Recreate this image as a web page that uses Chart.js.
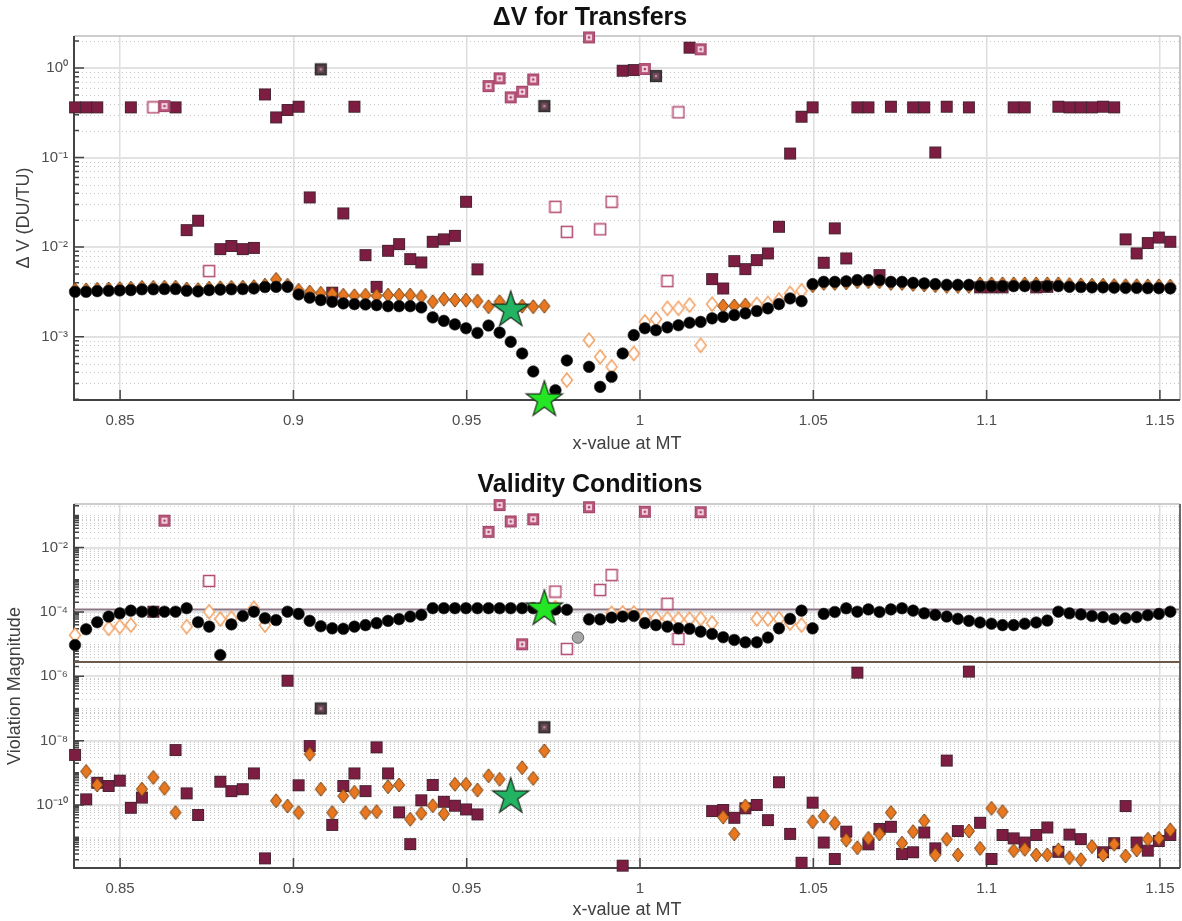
<!DOCTYPE html>
<html>
<head>
<meta charset="utf-8">
<script src="https://cdn.jsdelivr.net/npm/chart.js@4.4.1/dist/chart.umd.min.js"></script>
<style>
  html, body { margin: 0; padding: 0; background: #fff; }
  #wrap { position: relative; width: 1182px; height: 921px; }
  canvas { position: absolute; left: 0; }
</style>
</head>
<body>
<div id="wrap">
  <canvas id="topChart" width="1182" height="455" style="top:0"></canvas>
  <canvas id="botChart" width="1182" height="466" style="top:455px"></canvas>
</div>
<script>
// x positions of the sampled transfers (x-value at MT)
const X = [0.8370,0.8402,0.8434,0.8467,0.8499,0.8531,0.8563,0.8596,0.8628,0.8660,
  0.8692,0.8725,0.8757,0.8789,0.8821,0.8854,0.8886,0.8918,0.8950,0.8983,
  0.9015,0.9047,0.9079,0.9112,0.9144,0.9176,0.9208,0.9240,0.9273,0.9305,
  0.9337,0.9369,0.9402,0.9434,0.9466,0.9498,0.9531,0.9563,0.9595,0.9627,
  0.9660,0.9692,0.9724,0.9756,0.9789,0.9821,0.9853,0.9885,0.9918,0.9950,
  0.9982,1.0014,1.0046,1.0079,1.0111,1.0143,1.0175,1.0208,1.0240,1.0272,
  1.0304,1.0337,1.0369,1.0401,1.0433,1.0466,1.0498,1.0530,1.0562,1.0595,
  1.0627,1.0659,1.0691,1.0724,1.0756,1.0788,1.0820,1.0852,1.0885,1.0917,
  1.0949,1.0981,1.1014,1.1046,1.1078,1.1110,1.1143,1.1175,1.1207,1.1239,
  1.1272,1.1304,1.1336,1.1368,1.1401,1.1433,1.1465,1.1497,1.1530];

const X_MIN = 0.8367, X_MAX = 1.1558;
const X_TICKS = [0.85, 0.9, 0.95, 1, 1.05, 1.1, 1.15];
const X_TICK_LABELS = ['0.85', '0.9', '0.95', '1', '1.05', '1.1', '1.15'];

// ---- top panel: delta-V ----
const TOP_Y_MIN = 1.96e-4, TOP_Y_MAX = 2.28;
const TOP_Y_TICKS = [1e-3, 1e-2, 1e-1, 1];

const TOP_CIRCLE = [3.17e-3,3.17e-3,3.22e-3,3.25e-3,3.28e-3,3.31e-3,3.38e-3,3.38e-3,3.40e-3,3.40e-3,
  3.25e-3,3.20e-3,3.31e-3,3.35e-3,3.38e-3,3.40e-3,3.45e-3,3.58e-3,3.60e-3,3.60e-3,
  2.96e-3,2.72e-3,2.56e-3,2.45e-3,2.35e-3,2.31e-3,2.29e-3,2.25e-3,2.19e-3,2.19e-3,
  2.19e-3,2.12e-3,1.64e-3,1.50e-3,1.37e-3,1.24e-3,1.10e-3,1.33e-3,1.11e-3,8.75e-4,
  6.49e-4,4.08e-4,2.06e-4,2.52e-4,5.42e-4,null,4.60e-4,2.75e-4,3.56e-4,6.49e-4,
  1.04e-3,1.24e-3,1.18e-3,1.27e-3,1.34e-3,1.43e-3,1.46e-3,1.60e-3,1.66e-3,1.74e-3,
  1.82e-3,1.93e-3,2.07e-3,2.31e-3,2.67e-3,2.49e-3,3.86e-3,4.09e-3,4.09e-3,4.15e-3,
  4.28e-3,4.28e-3,4.28e-3,4.09e-3,4.09e-3,3.99e-3,3.93e-3,3.86e-3,3.79e-3,3.79e-3,
  3.79e-3,3.67e-3,3.67e-3,3.67e-3,3.67e-3,3.67e-3,3.67e-3,3.67e-3,3.67e-3,3.60e-3,
  3.58e-3,3.55e-3,3.55e-3,3.52e-3,3.50e-3,3.50e-3,3.48e-3,3.48e-3,3.46e-3];

const TOP_ORANGE = [3.33e-3,3.33e-3,3.38e-3,3.41e-3,3.44e-3,3.48e-3,3.55e-3,3.55e-3,3.57e-3,3.57e-3,
  3.41e-3,3.36e-3,3.48e-3,3.52e-3,3.55e-3,3.57e-3,3.62e-3,3.76e-3,4.36e-3,3.75e-3,
  3.3e-3,3.15e-3,3.05e-3,3.0e-3,2.9e-3,2.86e-3,2.9e-3,2.86e-3,2.91e-3,2.91e-3,
  2.91e-3,2.8e-3,2.45e-3,2.62e-3,2.56e-3,2.56e-3,2.49e-3,2.16e-3,2.45e-3,2.3e-3,
  2.19e-3,2.16e-3,2.19e-3,null,null,null,null,null,null,null,
  null,null,null,null,null,null,null,null,2.2e-3,2.2e-3,
  2.25e-3,null,null,null,null,null,3.71e-3,3.93e-3,3.93e-3,3.98e-3,
  4.11e-3,4.11e-3,4.11e-3,3.93e-3,3.93e-3,3.83e-3,3.77e-3,3.71e-3,3.64e-3,3.64e-3,
  3.64e-3,3.89e-3,3.89e-3,3.89e-3,3.89e-3,3.89e-3,3.89e-3,3.89e-3,3.89e-3,3.82e-3,
  3.79e-3,3.76e-3,3.76e-3,3.73e-3,3.71e-3,3.71e-3,3.69e-3,3.69e-3,3.67e-3];

const TOP_OR_OPEN_IDX = [44,46,47,48,50,51,52,53,54,55,56,57,61,62,63,64,65];
const TOP_OR_OPEN_VAL = [3.27e-4,9.14e-4,5.95e-4,4.60e-4,6.49e-4,1.46e-3,1.57e-3,2.07e-3,2.07e-3,2.25e-3,8.0e-4,2.31e-3,2.3e-3,2.35e-3,2.56e-3,3.04e-3,3.25e-3];

const TOP_SQ_IDX = [0,1,2,5,9,10,11,13,14,15,16,17,18,19,20,21,23,24,25,26,27,28,29,30,31,32,33,34,35,36,
  49,50,55,57,58,59,60,61,62,63,64,65,66,67,68,69,70,71,72,73,75,76,77,78,
  80,81,82,83,84,85,86,87,88,89,90,91,92,93,94,95,96,97,98];
const TOP_SQ_VAL = [0.364,0.364,0.364,0.364,0.364,0.0155,0.0197,0.0095,0.0103,0.0095,0.0098,0.508,0.281,0.34,
  0.37,0.0359,0.0031,0.0238,0.37,0.00814,0.0036,0.0091,0.0108,0.00735,0.00674,0.01146,0.0122,0.01337,0.0321,0.00564,
  0.933,0.95,1.69,0.00439,0.00345,0.00698,0.00568,0.00716,0.0085,0.01686,0.111,0.286,0.364,0.00668,0.0162,0.00748,
  0.364,0.364,0.00487,0.37,0.364,0.364,0.114,0.37,
  0.364,0.00355,0.00355,0.00355,0.364,0.364,0.00355,0.0036,0.37,0.364,0.364,0.364,0.37,0.364,0.0122,0.0085,0.0111,0.0128,0.01146];

const TOP_SQ_OPEN_IDX = [7,12,43,44,47,48,53,54];
const TOP_SQ_OPEN_VAL = [0.364,0.0054,0.0282,0.0148,0.0158,0.0321,0.00417,0.32];
const TOP_SQ_HATCH_IDX = [8,37,38,39,40,41,46,51,56];
const TOP_SQ_HATCH_VAL = [0.376,0.629,0.767,0.471,0.544,0.746,2.2,0.975,1.62];
const TOP_SQ_DARK_IDX = [22,42,52];
const TOP_SQ_DARK_VAL = [0.967,0.376,0.814];
const TOP_STAR_IDX = [39,42];
const TOP_STAR_VAL = [1.98e-3,1.97e-4];

// ---- bottom panel: validity conditions ----
const BOT_Y_MIN = 1.1e-12, BOT_Y_MAX = 0.227;
const BOT_Y_TICKS = [1e-10, 1e-8, 1e-6, 1e-4, 1e-2];

const BOT_CIRCLE = [9.4e-6,2.9e-5,4.8e-5,7.2e-5,9.1e-5,1.1e-4,1.02e-4,1.02e-4,1.02e-4,1.02e-4,
  1.31e-4,4.8e-5,3.5e-5,4.6e-6,4.1e-5,7.5e-5,1.02e-4,6.4e-5,5.6e-5,1.02e-4,
  8.7e-5,5.3e-5,3.6e-5,3.1e-5,3.0e-5,3.5e-5,3.9e-5,4.5e-5,5.3e-5,6.0e-5,
  7.2e-5,8.1e-5,1.31e-4,1.31e-4,1.31e-4,1.31e-4,1.31e-4,1.31e-4,1.31e-4,1.31e-4,
  1.31e-4,1.31e-4,1.25e-4,1.2e-4,1.17e-4,null,5.9e-5,5.9e-5,6.7e-5,7.2e-5,
  7.5e-5,4.5e-5,3.9e-5,3.5e-5,3.1e-5,3.0e-5,2.44e-5,2.07e-5,1.64e-5,1.35e-5,
  1.14e-5,1.14e-5,1.6e-5,3.1e-5,6.1e-5,1.1e-4,3.1e-5,8.7e-5,1.0e-4,1.3e-4,
  1.02e-4,1.2e-4,1.0e-4,1.2e-4,1.3e-4,1.1e-4,9.1e-5,8.1e-5,7.2e-5,6.1e-5,
  5.3e-5,4.7e-5,4.3e-5,3.9e-5,3.9e-5,4.3e-5,4.7e-5,5.4e-5,1.02e-4,9.1e-5,
  8.4e-5,7.5e-5,6.9e-5,6.1e-5,6.4e-5,6.9e-5,7.9e-5,8.7e-5,1.02e-4];

const BOT_ORANGE = [null,1.1e-9,4.2e-10,null,null,null,3.1e-10,7.2e-10,3.3e-10,5.8e-11,
  null,null,null,null,null,null,null,null,1.36e-10,9.3e-11,
  5.8e-11,3.8e-9,3.1e-10,5.8e-11,1.9e-10,2.5e-10,5.8e-11,6.2e-11,3.7e-10,4.2e-10,
  3.6e-11,5.5e-11,9.5e-11,5.3e-11,4.4e-10,4.4e-10,2.9e-10,8.1e-10,6.3e-10,null,
  1.44e-9,6.7e-10,4.8e-9,null,null,null,null,null,null,null,
  null,null,null,null,null,null,null,null,4.2e-11,1.26e-11,
  9.3e-11,null,null,null,null,null,3e-11,4.5e-11,2.7e-11,8.1e-12,
  4.7e-12,9.2e-12,1.26e-11,5.8e-11,6.5e-12,1.48e-11,3.2e-11,2.8e-12,8.6e-12,2.8e-12,
  1.55e-11,4.5e-12,7.9e-11,6.2e-11,3.8e-12,4.2e-12,2.8e-12,2.8e-12,4e-12,2.3e-12,
  2e-12,5.1e-12,2.8e-12,6e-12,2.6e-12,4e-12,8.6e-12,9.2e-12,1.67e-11];

const BOT_OR_OPEN_IDX = [0,3,4,5,10,12,13,14,16,17,43,48,49,50,51,52,53,54,55,56,57,61,62,63,64,65];
const BOT_OR_OPEN_VAL = [1.9e-5,3.1e-5,3.5e-5,3.9e-5,3.5e-5,1.02e-4,6.0e-5,6.4e-5,1.3e-4,3.9e-5,1.35e-4,9.1e-5,9.3e-5,9.3e-5,7.2e-5,6.4e-5,6.2e-5,6.0e-5,6.0e-5,6.2e-5,4.5e-5,6.1e-5,6.1e-5,6.1e-5,4.5e-5,3.9e-5];

const BOT_SQ_IDX = [0,1,2,3,4,5,6,7,9,10,11,13,14,15,16,17,19,20,21,23,24,25,26,27,28,29,
  30,31,32,33,34,35,36,49,57,58,59,60,61,62,63,64,65,66,67,68,69,
  70,71,72,73,74,75,76,77,78,79,80,81,82,83,84,85,86,87,88,89,90,92,93,94,95,96,97,98];
const BOT_SQ_VAL = [3.6e-9,1.5e-10,4.9e-10,3.9e-10,5.7e-10,8.2e-11,1.7e-10,1.02e-4,5.1e-9,2.3e-10,4.9e-11,
  5.3e-10,2.7e-10,3.1e-10,9.6e-10,2.2e-12,7.3e-7,4.1e-10,6.8e-9,2.4e-11,3.9e-10,9.6e-10,2.7e-10,6.2e-9,9.6e-10,5.9e-11,
  6.1e-12,1.4e-10,4.2e-10,1.26e-10,9.5e-11,7.3e-11,5.1e-11,1.3e-12,6.5e-11,7e-11,4e-11,7.9e-11,1e-10,3.4e-11,5.1e-10,
  1.26e-11,1.6e-12,1.18e-10,6.8e-12,2.1e-12,1.48e-11,
  1.3e-6,6e-12,1.8e-11,2.1e-11,3e-12,3.4e-12,1.4e-11,4.5e-12,2.4e-9,1.55e-11,1.4e-6,2.8e-11,2.1e-12,1.17e-11,9.2e-12,
  6.8e-12,1.17e-11,2e-11,3.5e-12,1.2e-11,8.7e-12,3.4e-12,6.5e-12,9.3e-11,6.8e-12,3.8e-12,7.6e-12,1.17e-11];

const BOT_SQ_OPEN_IDX = [12,43,44,47,48,53,54];
const BOT_SQ_OPEN_VAL = [9.2e-4,4.3e-4,7.1e-6,4.8e-4,1.4e-3,1.8e-4,1.45e-5];
const BOT_SQ_HATCH_IDX = [8,37,38,39,40,41,46,51,56];
const BOT_SQ_HATCH_VAL = [0.069,0.031,0.21,0.065,9.9e-6,0.076,0.18,0.13,0.126];
const BOT_SQ_DARK_IDX = [22,42];
const BOT_SQ_DARK_VAL = [1.0e-7,2.6e-8];
const BOT_GRAY_IDX = [45];
const BOT_GRAY_VAL = [1.6e-5];
const BOT_STAR_IDX = [42,39];
const BOT_STAR_VAL = [1.25e-4,1.8e-10];
const BOT_REF_LINES = [1.19e-4, 2.8e-6];

// ---- helpers ----
Chart.defaults.font.family = "'Liberation Sans', Arial, sans-serif";

const full = arr => X.map((x, i) => ({x, y: arr[i]})).filter(p => p.y != null);
const pairs = (idx, val) => idx.map((i, k) => ({x: X[i], y: val[k]}));

const SUP = {'-': '\u207b', '0': '\u2070', '1': '\u00b9', '2': '\u00b2', '3': '\u00b3',
  '4': '\u2074', '5': '\u2075', '6': '\u2076', '7': '\u2077', '8': '\u2078', '9': '\u2079'};
const pow10Label = v => '10' + String(Math.round(Math.log10(v))).split('').map(c => SUP[c]).join('');

function makeMarker(w, h, draw) {
  const c = document.createElement('canvas');
  c.width = w; c.height = h;
  draw(c.getContext('2d'), w / 2, h / 2);
  return c;
}

const squareMark = (fill, stroke, lw, inner, dot) => makeMarker(14, 14, (g, cx, cy) => {
  g.fillStyle = fill;
  g.fillRect(cx - 5.5, cy - 5.5, 11, 11);
  g.strokeStyle = stroke; g.lineWidth = lw;
  g.strokeRect(cx - 5.5, cy - 5.5, 11, 11);
  if (inner) { g.fillStyle = inner; g.fillRect(cx - 3, cy - 3, 6, 6); }
  if (dot) { g.fillStyle = dot; g.beginPath(); g.arc(cx, cy, 1.3, 0, Math.PI * 2); g.fill(); }
});

const diamondMark = (fill, stroke, lw) => makeMarker(14, 18, (g, cx, cy) => {
  g.beginPath();
  g.moveTo(cx, cy - 7); g.lineTo(cx + 5.5, cy); g.lineTo(cx, cy + 7); g.lineTo(cx - 5.5, cy);
  g.closePath();
  g.fillStyle = fill; g.fill();
  g.strokeStyle = stroke; g.lineWidth = lw; g.stroke();
});

const starMark = fill => makeMarker(42, 42, (g, cx, cy) => {
  g.beginPath();
  for (let k = 0; k < 10; k++) {
    const r = k % 2 ? 7.3 : 19;
    const a = -Math.PI / 2 + k * Math.PI / 5;
    g.lineTo(cx + r * Math.cos(a), cy + r * Math.sin(a));
  }
  g.closePath();
  g.fillStyle = fill; g.fill();
  g.strokeStyle = '#1b2b1b'; g.lineWidth = 1.2; g.stroke();
});

const MK = {
  sq: squareMark('#7d1d42', '#4a2634', 1),
  sqOpen: squareMark('#ffffff', '#b24a72', 1.5),
  sqHatch: squareMark('#b9557a', '#a0486a', 1, '#f1d3de', '#a8406a'),
  sqDark: squareMark('#4d3a42', '#2e2e2e', 1.2, '#6d4d5a', '#c58aa3'),
  dia: diamondMark('#e8771f', '#6e4216', 1),
  diaOpen: diamondMark('#ffffff', '#f2a062', 1.5),
  starDark: starMark('#22b462'),
  starBright: starMark('#25e625')
};

const pointSet = (data, style, extra) => Object.assign({
  data, pointStyle: style, pointRadius: 6, showLine: false, clip: false
}, extra);

const circleSet = (data, fill) => pointSet(data, 'circle', {
  pointRadius: 5.8, backgroundColor: fill, borderColor: '#222', borderWidth: 0.6
});

// minor dotted grid, plot frame and inward ticks, MATLAB style
const axisDecor = {
  id: 'axisDecor',
  beforeDatasetsDraw(chart, args, opts) {
    const {ctx, chartArea: a} = chart;
    const xs = chart.scales.x, ys = chart.scales.y;
    const majors = ys.ticks.map(t => t.value);
    const minors = [];
    for (let e = Math.floor(Math.log10(ys.min)); e <= Math.ceil(Math.log10(ys.max)); e++) {
      for (const m of opts.mults) {
        const v = m * Math.pow(10, e);
        if (v > ys.min && v < ys.max && !majors.some(t => Math.abs(t - v) / v < 1e-6)) minors.push(v);
      }
    }
    ctx.save();
    ctx.strokeStyle = '#c8c8c8';
    ctx.lineWidth = 1;
    ctx.setLineDash([1, 3]);
    for (const v of minors) {
      const py = Math.round(ys.getPixelForValue(v)) + 0.5;
      ctx.beginPath(); ctx.moveTo(a.left, py); ctx.lineTo(a.right, py); ctx.stroke();
    }
    ctx.setLineDash([]);
    ctx.strokeStyle = '#bdbdbd';
    ctx.lineWidth = 1.5;
    ctx.beginPath();
    ctx.moveTo(a.left, a.top); ctx.lineTo(a.right, a.top);
    ctx.stroke();
    ctx.strokeStyle = opts.rightColor;
    ctx.lineWidth = 2;
    ctx.beginPath();
    ctx.moveTo(a.right, a.top); ctx.lineTo(a.right, a.bottom);
    ctx.stroke();
    ctx.strokeStyle = '#444';
    ctx.lineWidth = 2;
    ctx.beginPath();
    ctx.moveTo(a.left, a.top); ctx.lineTo(a.left, a.bottom); ctx.lineTo(a.right, a.bottom);
    ctx.stroke();
    ctx.lineWidth = 1.5;
    ctx.beginPath();
    for (const v of majors) { const py = ys.getPixelForValue(v); ctx.moveTo(a.left, py); ctx.lineTo(a.left + 10, py); }
    for (const v of minors) { const py = ys.getPixelForValue(v); ctx.moveTo(a.left, py); ctx.lineTo(a.left + 5, py); }
    for (const t of xs.ticks) { const px = xs.getPixelForValue(t.value); ctx.moveTo(px, a.bottom); ctx.lineTo(px, a.bottom - 10); }
    ctx.stroke();
    ctx.restore();
  }
};

function panelOptions(p) {
  return {
    responsive: false,
    animation: false,
    events: [],
    layout: {autoPadding: false, padding: {left: 0, right: 2, top: 0, bottom: 0}},
    plugins: {
      legend: {display: false},
      tooltip: {enabled: false},
      title: {
        display: true, text: p.title, color: '#111',
        font: {size: 25, weight: 'bold'}, padding: p.titlePad
      },
      axisDecor: {mults: p.mults, rightColor: p.rightColor}
    },
    scales: {
      x: {
        type: 'linear', min: X_MIN, max: X_MAX,
        afterBuildTicks: s => { s.ticks = X_TICKS.map(v => ({value: v})); },
        afterFit: s => { s.height = p.xHeight; s.paddingLeft = 0; s.paddingRight = 0; },
        ticks: {
          callback: (v, i) => X_TICK_LABELS[i], autoSkip: false, maxRotation: 0,
          color: '#4d4d4d', font: {size: 15}, padding: 12
        },
        grid: {color: '#dedede', lineWidth: 1.5, drawTicks: false},
        border: {display: false},
        title: {display: true, text: 'x-value at MT', color: '#404040', font: {size: 18}, padding: {top: 0, bottom: 0}}
      },
      y: {
        type: 'logarithmic', min: p.yMin, max: p.yMax,
        afterBuildTicks: s => { s.ticks = p.yTicks.map(v => ({value: v})); },
        afterFit: s => { s.width = 74; s.paddingTop = 0; s.paddingBottom = 0; },
        ticks: {callback: v => pow10Label(v), autoSkip: false, color: '#4d4d4d', font: {size: 15}, padding: 6},
        grid: {color: '#e2e2e2', lineWidth: 2, drawTicks: false},
        border: {display: false},
        title: {display: true, text: p.yTitle, color: '#404040', font: {size: 18}, padding: {top: p.yTitlePad, bottom: 0}}
      }
    }
  };
}

new Chart(document.getElementById('topChart'), {
  type: 'scatter',
  data: {
    datasets: [
      pointSet(pairs(TOP_STAR_IDX, TOP_STAR_VAL), [MK.starDark, MK.starBright], {pointRadius: 10}),
      circleSet(full(TOP_CIRCLE), '#000'),
      pointSet(pairs(TOP_OR_OPEN_IDX, TOP_OR_OPEN_VAL), MK.diaOpen),
      pointSet(full(TOP_ORANGE), MK.dia),
      pointSet(pairs(TOP_SQ_DARK_IDX, TOP_SQ_DARK_VAL), MK.sqDark),
      pointSet(pairs(TOP_SQ_HATCH_IDX, TOP_SQ_HATCH_VAL), MK.sqHatch),
      pointSet(pairs(TOP_SQ_OPEN_IDX, TOP_SQ_OPEN_VAL), MK.sqOpen),
      pointSet(pairs(TOP_SQ_IDX, TOP_SQ_VAL), MK.sq)
    ]
  },
  options: panelOptions({
    title: '\u0394V for Transfers', titlePad: {top: 3, bottom: 3},
    yMin: TOP_Y_MIN, yMax: TOP_Y_MAX, yTicks: TOP_Y_TICKS,
    yTitle: '\u0394 V (DU/TU)', yTitlePad: 13, xHeight: 55,
    mults: [2, 3, 4, 5, 6, 7, 8, 9], rightColor: '#c4c4c4'
  }),
  plugins: [axisDecor]
});

new Chart(document.getElementById('botChart'), {
  type: 'scatter',
  data: {
    datasets: [
      pointSet(pairs(BOT_STAR_IDX, BOT_STAR_VAL), [MK.starBright, MK.starDark], {pointRadius: 10}),
      circleSet(full(BOT_CIRCLE), '#000'),
      circleSet(pairs(BOT_GRAY_IDX, BOT_GRAY_VAL), '#a8a8a8'),
      pointSet(full(BOT_ORANGE), MK.dia),
      pointSet(pairs(BOT_OR_OPEN_IDX, BOT_OR_OPEN_VAL), MK.diaOpen),
      pointSet(pairs(BOT_SQ_DARK_IDX, BOT_SQ_DARK_VAL), MK.sqDark),
      pointSet(pairs(BOT_SQ_HATCH_IDX, BOT_SQ_HATCH_VAL), MK.sqHatch),
      pointSet(pairs(BOT_SQ_OPEN_IDX, BOT_SQ_OPEN_VAL), MK.sqOpen),
      pointSet(pairs(BOT_SQ_IDX, BOT_SQ_VAL), MK.sq),
      {data: [{x: X_MIN, y: BOT_REF_LINES[0]}, {x: X_MAX, y: BOT_REF_LINES[0]}], showLine: true,
        pointRadius: 0, borderColor: '#8c7585', borderWidth: 2},
      {data: [{x: X_MIN, y: BOT_REF_LINES[1]}, {x: X_MAX, y: BOT_REF_LINES[1]}], showLine: true,
        pointRadius: 0, borderColor: '#6e5848', borderWidth: 2}
    ]
  },
  options: panelOptions({
    title: 'Validity Conditions', titlePad: {top: 15, bottom: 4},
    yMin: BOT_Y_MIN, yMax: BOT_Y_MAX, yTicks: BOT_Y_TICKS,
    yTitle: 'Violation Magnitude', yTitlePad: 4, xHeight: 53,
    mults: [1, 2, 3, 4, 5, 6, 7, 8, 9], rightColor: '#6a6a6a'
  }),
  plugins: [axisDecor]
});
</script>
</body>
</html>
